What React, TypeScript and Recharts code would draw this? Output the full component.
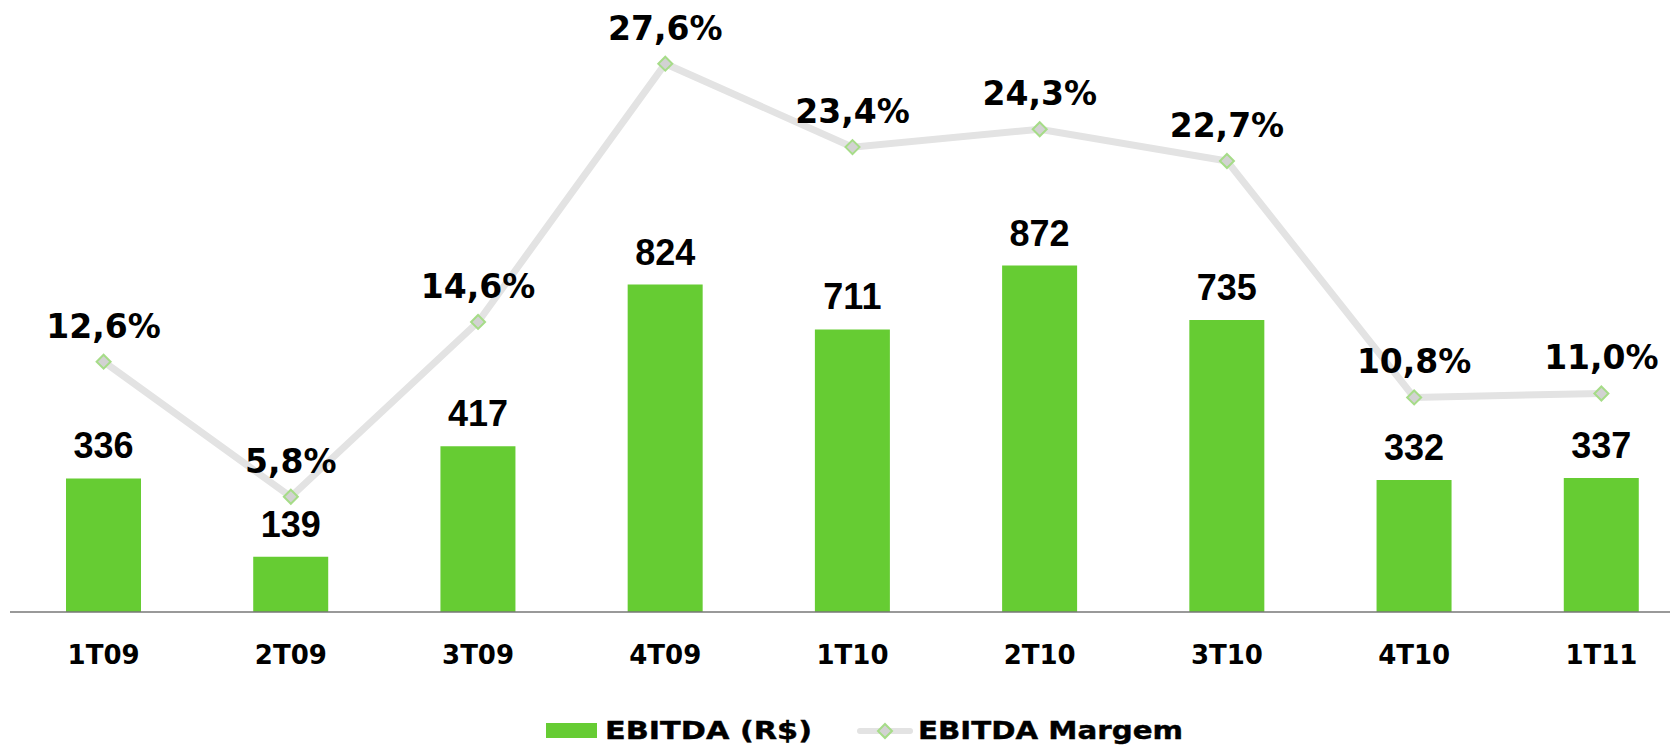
import React from 'react';
import { ComposedChart, Bar, Line, XAxis, YAxis, Legend, LabelList } from 'recharts';

const categories = ['1T09', '2T09', '3T09', '4T09', '1T10', '2T10', '3T10', '4T10', '1T11'];
const ebitda = [336, 139, 417, 824, 711, 872, 735, 332, 337];
const margem = [12.6, 5.8, 14.6, 27.6, 23.4, 24.3, 22.7, 10.8, 11.0];
const seriesNames = ['EBITDA (R$)', 'EBITDA Margem'];

const data = categories.map((c, i) => ({ cat: c, ebitda: ebitda[i], margem: margem[i] }));

const fmtPct = (v: any) => Number(v).toFixed(1).replace('.', ',') + '%';

const BAR_COLOR = '#66cc33';
const LINE_COLOR = '#e3e3e3';
const DOT_FILL = '#d2d2d2';
const DOT_STROKE = '#a6dc88';

const Diamond = (props: any) => {
  const { cx, cy, index } = props;
  if (cx == null || cy == null) return null;
  const r = 7;
  return (
    <path
      key={`d-${index}`}
      d={`M${cx},${cy - r}L${cx + r},${cy}L${cx},${cy + r}L${cx - r},${cy}Z`}
      fill={DOT_FILL}
      stroke={DOT_STROKE}
      strokeWidth={2}
    />
  );
};

const LegendContent = () => {
  const font = {
    fontFamily: 'DejaVu Sans',
    fontWeight: 700,
    fontSize: 24,
    fill: '#000',
    stroke: '#000',
    strokeWidth: 0.4,
  } as any;
  const r = 7;
  const dx = 877;
  const dy = 15;
  return (
    <svg width={1670} height={30} style={{ display: 'block' }}>
      <rect x={538} y={7} width={51} height={15} fill={BAR_COLOR} />
      <text x={597} y={23} textLength={207} lengthAdjust="spacingAndGlyphs" style={font}>
        {seriesNames[0]}
      </text>
      <line x1={852} y1={dy} x2={902} y2={dy} stroke={LINE_COLOR} strokeWidth={6} strokeLinecap="round" />
      <path
        d={`M${dx},${dy - r}L${dx + r},${dy}L${dx},${dy + r}L${dx - r},${dy}Z`}
        fill={DOT_FILL}
        stroke={DOT_STROKE}
        strokeWidth={2}
      />
      <text x={910} y={23} textLength={265} lengthAdjust="spacingAndGlyphs" style={font}>
        {seriesNames[1]}
      </text>
    </svg>
  );
};

export default function App() {
  return (
    <div style={{ width: 1670, height: 738, overflow: 'hidden' }}>
      <ComposedChart
        width={1700}
        height={738}
        data={data}
        margin={{ top: 8, right: 13, bottom: 0, left: 2 }}
      >
        <XAxis
          dataKey="cat"
          height={104}
          interval={0}
          tickLine={false}
          tickMargin={28}
          axisLine={{ stroke: '#777', strokeWidth: 1.5 }}
          tick={{ fontFamily: 'DejaVu Sans', fontWeight: 700, fontSize: 26, fill: '#000' }}
        />
        <YAxis yAxisId="left" hide domain={[0, 1500]} />
        <YAxis yAxisId="right" hide domain={[0, 30]} orientation="right" />
        <Bar yAxisId="left" dataKey="ebitda" name={seriesNames[0]} fill={BAR_COLOR} barSize={75} isAnimationActive={false}>
          <LabelList
            dataKey="ebitda"
            position="top"
            offset={20}
            fill="#000"
            style={{ fontFamily: 'Liberation Sans', fontWeight: 700, fontSize: 36 }}
          />
        </Bar>
        <Line
          yAxisId="right"
          type="linear"
          dataKey="margem"
          name={seriesNames[1]}
          stroke={LINE_COLOR}
          strokeWidth={7}
          dot={Diamond}
          activeDot={false}
          isAnimationActive={false}
        >
          <LabelList
            dataKey="margem"
            position="top"
            offset={24}
            fill="#000"
            stroke="none"
            formatter={fmtPct}
            style={{ fontFamily: 'DejaVu Sans', fontWeight: 700, fontSize: 33 }}
          />
        </Line>
        <Legend
          verticalAlign="bottom"
          content={<LegendContent />}
          wrapperStyle={{ left: 0, bottom: 0, width: 1670, height: 30 }}
        />
      </ComposedChart>
    </div>
  );
}
